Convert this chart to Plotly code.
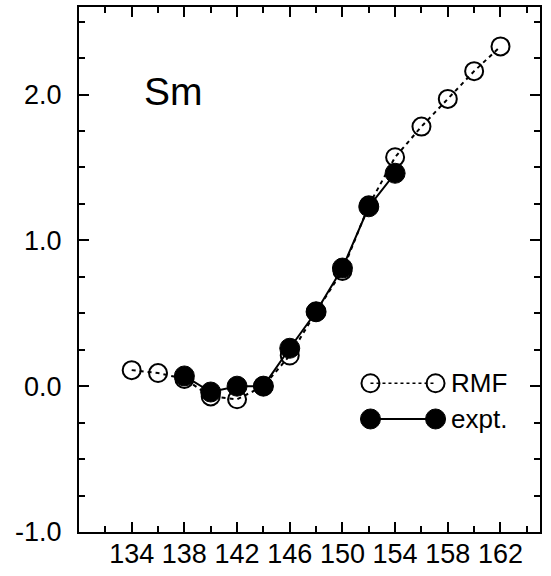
import plotly.graph_objects as go

# Data
rmf_n = [134, 136, 138, 140, 142, 144, 146, 148, 150, 152, 154, 156, 158, 160, 162]
rmf_y = [0.11, 0.09, 0.05, -0.07, -0.09, 0.0, 0.21, 0.51, 0.79, 1.24, 1.57, 1.78, 1.97, 2.16, 2.33]
exp_n = [138, 140, 142, 144, 146, 148, 150, 152, 154]
exp_y = [0.07, -0.04, 0.0, 0.0, 0.26, 0.51, 0.81, 1.23, 1.46]

x_ticks = [134, 138, 142, 146, 150, 154, 158, 162]
y_ticks = [-1.0, 0.0, 1.0, 2.0]
y_labels = ["-1.0", "0.0", "1.0", "2.0"]

legend_x = [152.13, 157.07]
legend_rmf_y = [0.02, 0.02]
legend_exp_y = [-0.225, -0.225]
legend_text_x = 158.1

FONT = "Liberation Sans, Arial, sans-serif"
TICKSIZE = 27

fig = go.Figure()
fig.add_trace(go.Scatter(
    x=rmf_n, y=rmf_y, mode="lines+markers",
    line=dict(color="black", width=2, dash="4px,4px"),
    marker=dict(symbol="circle-open", size=18, color="black", line=dict(width=2, color="black")),
    showlegend=False, cliponaxis=False))
fig.add_trace(go.Scatter(
    x=exp_n, y=exp_y, mode="lines+markers",
    line=dict(color="black", width=2),
    marker=dict(symbol="circle", size=20, color="black", line=dict(width=1, color="black")),
    showlegend=False, cliponaxis=False))
# custom legend
fig.add_trace(go.Scatter(
    x=legend_x, y=legend_rmf_y, mode="lines+markers",
    line=dict(color="black", width=1.5, dash="3px,3px"),
    marker=dict(symbol="circle-open", size=18, color="black", line=dict(width=2, color="black")),
    showlegend=False))
fig.add_trace(go.Scatter(
    x=legend_x, y=legend_exp_y, mode="lines+markers",
    line=dict(color="black", width=2),
    marker=dict(symbol="circle", size=20, color="black", line=dict(width=1, color="black")),
    showlegend=False))

fig.add_annotation(x=legend_text_x, y=legend_rmf_y[0], text="RMF", showarrow=False,
                   xanchor="left", yanchor="middle", font=dict(family=FONT, size=26, color="black"))
fig.add_annotation(x=legend_text_x, y=legend_exp_y[0], text="expt.", showarrow=False,
                   xanchor="left", yanchor="middle", font=dict(family=FONT, size=26, color="black"))
fig.add_annotation(x=137.2, y=2.02, text="Sm", showarrow=False,
                   xanchor="center", yanchor="middle", font=dict(family=FONT, size=39, color="black"))

fig.update_layout(
    width=551, height=576,
    margin=dict(l=79, r=11, t=7, b=44),
    paper_bgcolor="white", plot_bgcolor="white",
    font=dict(family=FONT, size=TICKSIZE, color="black"),
)
fig.update_xaxes(
    range=[130, 165], tickmode="array", tickvals=x_ticks, ticktext=[str(v) for v in x_ticks],
    ticks="inside", ticklen=10, tickwidth=2, tickcolor="black",
    showline=True, linewidth=2, linecolor="black", mirror="ticks",
    showgrid=False, zeroline=False, ticklabelstandoff=-3, automargin=False,
    minor=dict(tickmode="array", tickvals=list(range(130, 166, 2)), ticks="inside", ticklen=6, tickwidth=2, tickcolor="black", showgrid=False),
    tickfont=dict(family=FONT, size=TICKSIZE, color="black"),
)
fig.update_yaxes(
    range=[-1.0, 2.6], tickmode="array", tickvals=y_ticks, ticktext=y_labels,
    ticks="inside", ticklen=10, tickwidth=2, tickcolor="black",
    showline=True, linewidth=2, linecolor="black", mirror="ticks",
    showgrid=False, zeroline=False, ticklabelstandoff=10, automargin=False,
    minor=dict(tickmode="array", tickvals=[-1 + 0.25 * i for i in range(15)], ticks="inside", ticklen=6, tickwidth=2, tickcolor="black", showgrid=False),
    tickfont=dict(family=FONT, size=TICKSIZE, color="black"),
)

fig.write_html("out.html")
